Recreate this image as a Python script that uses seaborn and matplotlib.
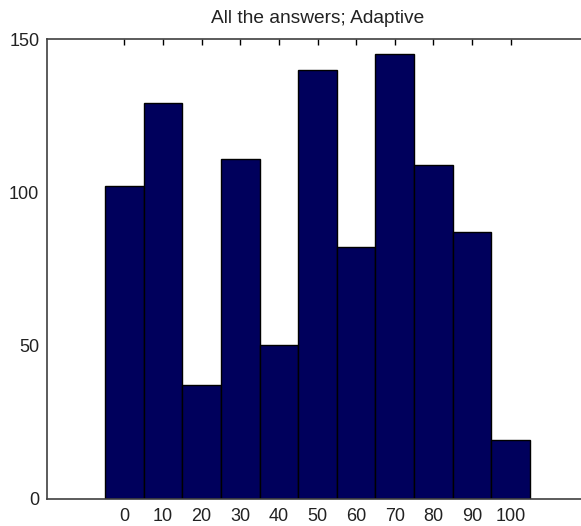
import matplotlib
matplotlib.use("Agg")
import matplotlib.pyplot as plt
import seaborn as sns
import numpy as np
import pandas as pd

title = "All the answers; Adaptive"
centers = [0, 10, 20, 30, 40, 50, 60, 70, 80, 90, 100]
counts = [102, 129, 37, 111, 50, 140, 82, 145, 109, 87, 19]
yticks = [0, 50, 100, 150]

sns.set_theme(style="white")
plt.rcParams['font.family'] = ['Liberation Sans', 'DejaVu Sans']

W, H = 581, 526
fig = plt.figure(figsize=(W / 100, H / 100), dpi=100)
left, right, top, bottom = 47, 588, 39, 498.7
ax = fig.add_axes([left / W, 1 - bottom / H, (right - left) / W, (bottom - top) / H])

df = pd.DataFrame({"x": centers, "y": counts})
sns.barplot(data=df, x="x", y="y", native_scale=True, width=1.0,
            color="#00005C", saturation=1, edgecolor="black", linewidth=1.0, ax=ax)

ax.set_xlim(-20, 120)
ax.set_ylim(0, 150)
ax.set_xticks(centers)
ax.set_xticklabels([str(c) for c in centers])
ax.set_yticks(yticks)
ax.set_yticklabels([str(v) for v in yticks])
ax.set_xlabel("")
ax.set_ylabel("")
ax.set_title(title, fontsize=13.8, pad=11.5, color="#222222")

for s in ax.spines.values():
    s.set_visible(True)
    s.set_color("#404040")
    s.set_linewidth(1.2)

ax.tick_params(axis="both", direction="in", length=4.5, width=1.0, color="black",
               top=True, right=True, labelsize=13, labelcolor="#222222")
ax.tick_params(axis="x", pad=7)
ax.tick_params(axis="y", pad=5.5)

fig.savefig("out.png", dpi=100)
